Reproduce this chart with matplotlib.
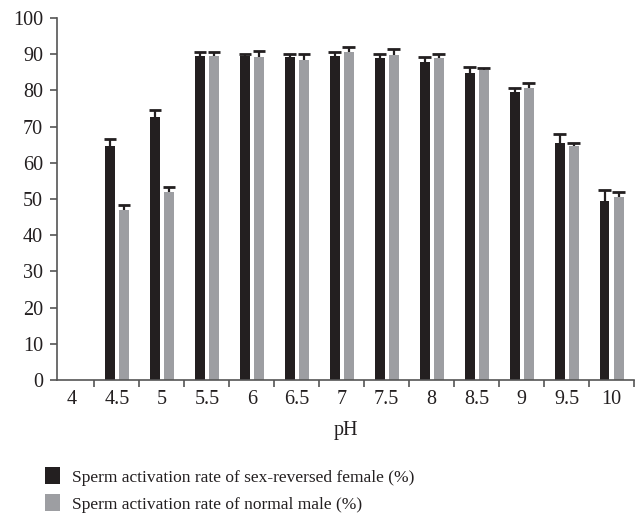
import matplotlib
matplotlib.use("Agg")
import matplotlib.pyplot as plt
import numpy as np
from matplotlib.patches import Patch

categories = ["4", "4.5", "5", "5.5", "6", "6.5", "7", "7.5", "8", "8.5", "9", "9.5", "10"]
female = [0, 64.6, 72.7, 89.6, 89.6, 89.2, 89.5, 89.0, 87.8, 84.8, 79.6, 65.5, 49.4]
female_err = [0, 2.1, 2.0, 0.9, 0.4, 0.9, 1.1, 1.0, 1.5, 1.7, 1.0, 2.5, 3.1]
male = [0, 47.0, 51.9, 89.6, 89.2, 88.4, 90.6, 89.8, 89.0, 85.6, 80.7, 64.6, 50.6]
male_err = [0, 1.3, 1.4, 0.9, 1.7, 1.6, 1.4, 1.6, 1.0, 0.5, 1.3, 1.0, 1.3]

black = "#231f20"
gray = "#9d9ea2"

plt.rcParams['font.family'] = ['Liberation Serif', 'DejaVu Serif']

fig = plt.figure(figsize=(6.39, 5.17), dpi=100)
ax = fig.add_axes([57/639, 1-380/517, (634-57)/639, (380-18)/517])

x = np.arange(len(categories))
w = 0.222
off = 0.156
cw = 0.14
series = [(x - off, np.array(female), np.array(female_err), black),
          (x + off, np.array(male), np.array(male_err), gray)]
for xs, vals, errs, col in series:
    ax.bar(xs, vals, width=w, color=col, zorder=2)
    m = vals > 0
    tops = vals[m] + errs[m]
    ax.vlines(xs[m], vals[m], tops, colors=black, linewidth=1.6, zorder=3)
    ax.hlines(tops, xs[m] - cw, xs[m] + cw, colors=black, linewidth=2.0, zorder=3)

ax.set_xlim(-0.333, 12.5)
ax.set_ylim(0, 100)
ax.set_yticks(np.arange(0, 101, 10))
ax.set_xticks(x)
ax.set_xticklabels(categories)
ax.set_xticks(np.arange(0.5, 12.6, 1.0), minor=True)
ax.tick_params(axis='x', which='major', length=0, labelsize=14.5, colors='#231f20', pad=7)
ax.tick_params(axis='x', which='minor', length=5, width=1.2, color='#555555', direction='out')
ax.tick_params(axis='y', length=5, width=1.2, color='#555555', labelsize=14.5,
               labelcolor='#231f20', direction='out', pad=5)
for s in ['top', 'right']:
    ax.spines[s].set_visible(False)
for s in ['left', 'bottom']:
    ax.spines[s].set_color('#555555')
    ax.spines[s].set_linewidth(1.2)
ax.set_xlabel("pH", fontsize=14.5, color='#231f20', labelpad=9)

handles = [Patch(facecolor=black, edgecolor='none'), Patch(facecolor=gray, edgecolor='none')]
labels = ["Sperm activation rate of sex-reversed female (%)", "Sperm activation rate of normal male (%)"]
fig.legend(handles, labels, loc='lower left', bbox_to_anchor=(29/639, -0.022), frameon=False,
           fontsize=12.5, handlelength=0.9, handleheight=1.15, handletextpad=0.7, labelspacing=0.5,
           labelcolor='#231f20')

fig.savefig("out.png", dpi=100)
